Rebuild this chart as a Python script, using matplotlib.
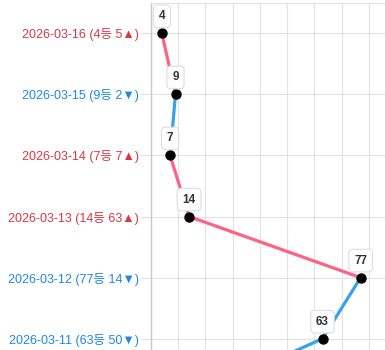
import matplotlib.pyplot as plt

# data (newest first, last row is cropped off below the view)
dates = ['2026-03-16', '2026-03-15', '2026-03-14', '2026-03-13', '2026-03-12', '2026-03-11', '2026-03-10']
ranks = [4, 9, 7, 14, 77, 63, 13]
changes = [5, -2, 7, 63, -14, -50, 0]

UP = '#dc3545'
DOWN = '#1e88e5'
LINE_UP = '#ff6384'
LINE_DOWN = '#36a2eb'

plt.rcParams['font.family'] = ['Liberation Sans', 'Noto Sans CJK KR', 'DejaVu Sans']

fig = plt.figure(figsize=(3.85, 3.5), dpi=100)
# axes is larger than the figure: the view is cropped on the right and bottom
ax = fig.add_axes([151 / 385, 1 - 430.3 / 350, 245 / 385, 427.5 / 350])

n = len(dates)
ys = list(range(n))
shown = n - 1  # rows visible in the view

for i in range(n - 1):
    col = LINE_UP if changes[i] > 0 else LINE_DOWN
    ax.plot(ranks[i:i + 2], ys[i:i + 2], color=col, lw=2.3, solid_capstyle='round', zorder=2)

ax.scatter(ranks, ys, s=42, color='black', zorder=3)

for r, y in zip(ranks[:shown], ys[:shown]):
    ax.annotate(str(r), (r, y), xytext=(0, 17), textcoords='offset pixels',
                ha='center', va='center', fontsize=8.5, fontweight='bold', color='#333333',
                bbox=dict(boxstyle='round,pad=0.45,rounding_size=0.35', fc='white', ec='#dddddd', lw=0.8),
                zorder=4)

labels = []
for d, r, c in zip(dates[:shown], ranks, changes):
    if c > 0:
        labels.append(f'{d} ({r}등 {c}▲)')
    else:
        labels.append(f'{d} ({r}등 {-c}▼)')
labels.append('')

ax.set_yticks(ys)
ax.set_yticklabels(labels, fontsize=9.0)
for lab, c in zip(ax.get_yticklabels(), changes):
    lab.set_color(UP if c > 0 else DOWN)

ax.set_ylim(n - 0.5, -0.5)
ax.set_xlim(0, 90)
ax.set_xticks(range(0, 91, 10))
ax.tick_params(axis='x', labelbottom=False, length=0)
ax.tick_params(axis='y', length=8, color='#e2e2e2', pad=1)

ax.grid(True, color='#e2e2e2', lw=0.8)
ax.set_axisbelow(True)
for s in ['right', 'bottom']:
    ax.spines[s].set_visible(False)
ax.spines['top'].set_color('#e2e2e2')
ax.spines['top'].set_linewidth(0.8)
ax.spines['left'].set_color('#c8c8c8')
ax.spines['left'].set_linewidth(1.0)

fig.savefig('out.png', dpi=100)
